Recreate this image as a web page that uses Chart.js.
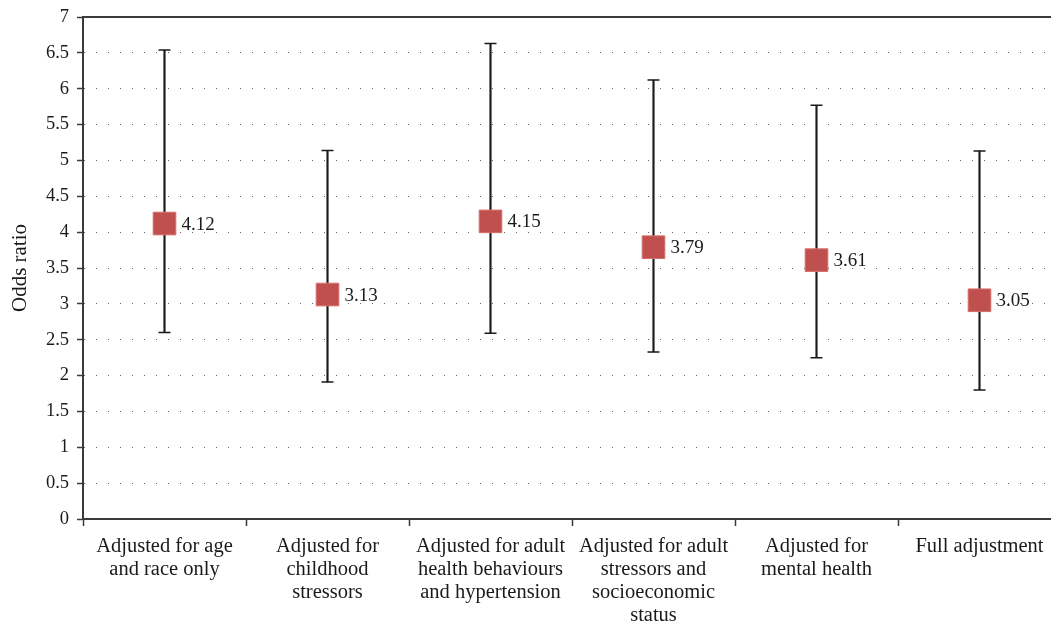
<!DOCTYPE html>
<html>
<head>
<meta charset="utf-8">
<script src="https://cdn.jsdelivr.net/npm/chart.js@4.4.1/dist/chart.umd.min.js"></script>
<style>
  html, body { margin: 0; padding: 0; overflow: hidden; background: #fff; }
  #wrap { width: 1078px; height: 629px; }
</style>
</head>
<body>
<div id="wrap"><canvas id="c" width="1078" height="629"></canvas></div>
<script>
// Adjustment models and their odds ratios with 95% confidence limits
const categories = [
  ["Adjusted for age", "and race only"],
  ["Adjusted for", "childhood", "stressors"],
  ["Adjusted for adult", "health behaviours", "and hypertension"],
  ["Adjusted for adult", "stressors and", "socioeconomic", "status"],
  ["Adjusted for", "mental health"],
  ["Full adjustment"]
];
const oddsRatio = [4.12, 3.13, 4.15, 3.79, 3.61, 3.05];
const ciLower = [2.60, 1.91, 2.59, 2.33, 2.25, 1.80];
const ciUpper = [6.54, 5.14, 6.63, 6.12, 5.77, 5.13];
const yTicks = [0, 0.5, 1, 1.5, 2, 2.5, 3, 3.5, 4, 4.5, 5, 5.5, 6, 6.5, 7];

const FONT = "'Liberation Serif', 'Times New Roman', serif";
const INK = '#1a1a1a';
const AXIS = '#3a3a3a';

// Solid frame line along the top of the plot area
const topLine = {
  id: 'topLine',
  afterDraw(chart) {
    const {ctx, chartArea, scales} = chart;
    const y = Math.round(scales.y.getPixelForValue(yTicks[yTicks.length - 1]));
    ctx.save();
    ctx.strokeStyle = AXIS;
    ctx.lineWidth = 2;
    ctx.beginPath();
    ctx.moveTo(chartArea.left - 1, y);
    ctx.lineTo(chartArea.right, y);
    ctx.stroke();
    ctx.restore();
  }
};

// Odds ratio value printed beside each marker
const valueLabels = {
  id: 'valueLabels',
  afterDatasetsDraw(chart) {
    const idx = chart.data.datasets.findIndex(d => d.id === 'or');
    const meta = chart.getDatasetMeta(idx);
    const {ctx} = chart;
    ctx.save();
    ctx.font = '19px ' + FONT;
    ctx.fillStyle = INK;
    ctx.textAlign = 'left';
    ctx.textBaseline = 'middle';
    meta.data.forEach((pt, i) => {
      ctx.fillText(oddsRatio[i].toFixed(2), pt.x + 17, pt.y + 1);
    });
    ctx.restore();
  }
};

new Chart(document.getElementById('c'), {
  type: 'bar',
  data: {
    labels: categories,
    datasets: [
      {
        id: 'ci',
        type: 'bar',
        data: ciLower.map((lo, i) => [lo, ciUpper[i]]),
        backgroundColor: INK,
        borderWidth: 0,
        barThickness: 1.5,
        order: 3
      },
      {
        id: 'capHi',
        type: 'line',
        data: ciUpper,
        showLine: false,
        pointStyle: 'line',
        pointRadius: 6,
        pointHoverRadius: 6,
        pointBorderWidth: 1.5,
        pointBorderColor: INK,
        borderColor: INK,
        order: 2
      },
      {
        id: 'capLo',
        type: 'line',
        data: ciLower,
        showLine: false,
        pointStyle: 'line',
        pointRadius: 6,
        pointHoverRadius: 6,
        pointBorderWidth: 1.5,
        pointBorderColor: INK,
        borderColor: INK,
        order: 2
      },
      {
        id: 'or',
        type: 'line',
        data: oddsRatio,
        showLine: false,
        pointStyle: 'rect',
        pointRadius: 16,
        pointHoverRadius: 16,
        pointBackgroundColor: '#C0504D',
        pointBorderColor: '#D66E6B',
        pointBorderWidth: 1,
        order: 1
      }
    ]
  },
  options: {
    responsive: false,
    animation: false,
    events: [],
    layout: { padding: { top: 13, right: 0, bottom: 0, left: 0 } },
    plugins: { legend: { display: false }, tooltip: { enabled: false } },
    scales: {
      x: {
        offset: true,
        grid: {
          offset: true,
          drawOnChartArea: false,
          drawTicks: true,
          tickLength: 7,
          tickColor: AXIS,
          tickWidth: 1.5
        },
        border: { display: true, color: AXIS, width: 2 },
        ticks: {
          color: INK,
          font: { family: FONT, size: 20.5, lineHeight: 1.12 },
          padding: 9,
          maxRotation: 0,
          autoSkip: false
        },
        afterFit(scale) {
          scale.height = 110;
          scale.paddingLeft = 0;
          scale.paddingRight = 0;
        }
      },
      y: {
        min: 0,
        max: 7,
        afterBuildTicks(scale) { scale.ticks = yTicks.map(v => ({ value: v })); },
        grid: {
          color: '#666',
          lineWidth: 1,
          drawTicks: true,
          tickLength: 6,
          tickColor: AXIS,
          tickWidth: 1.5,
          tickBorderDash: []
        },
        border: { display: true, color: AXIS, width: 2, dash: [1, 11] },
        ticks: {
          color: INK,
          font: { family: FONT, size: 18.5 },
          padding: 8,
          callback: v => String(v)
        },
        title: {
          display: true,
          text: 'Odds ratio',
          color: INK,
          font: { family: FONT, size: 21 },
          padding: { top: 8, bottom: 4 }
        },
        afterFit(scale) {
          scale.width = 83;
          scale.paddingTop = 0;
          scale.paddingBottom = 0;
        }
      }
    }
  },
  plugins: [topLine, valueLabels]
});
</script>
</body>
</html>
